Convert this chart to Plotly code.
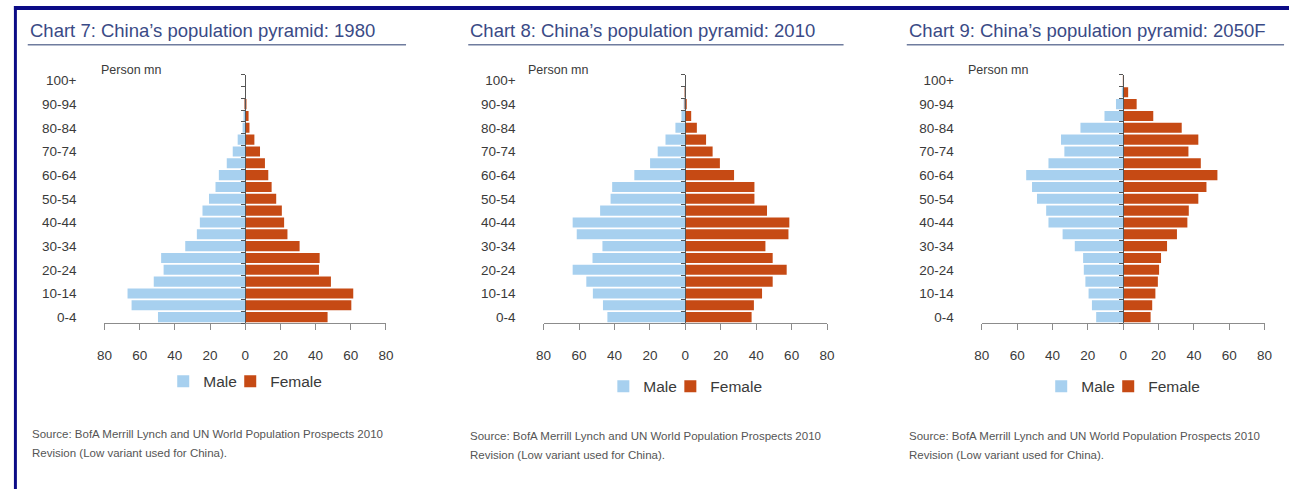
import plotly.graph_objects as go

W, H = 1297, 491

# Five-year age bands, youngest first
age_groups = ["0-4", "5-9", "10-14", "15-19", "20-24", "25-29", "30-34", "35-39",
              "40-44", "45-49", "50-54", "55-59", "60-64", "65-69", "70-74",
              "75-79", "80-84", "85-89", "90-94", "95-99", "100+"]
age_tick_labels = age_groups[::2]

# Population in millions by age band
male_1980 = [49.6, 64.6, 66.9, 52.0, 46.4, 47.8, 34.1, 27.5, 25.8, 24.3, 20.6,
             16.9, 15.0, 10.5, 7.1, 4.3, 1.5, 0.5, 0.1, 0.0, 0.0]
female_1980 = [46.8, 60.3, 61.4, 48.7, 41.9, 42.3, 30.9, 24.0, 22.1, 20.8, 17.6,
               15.0, 13.1, 11.2, 8.4, 5.2, 2.4, 1.9, 0.4, 0.0, 0.0]

male_2010 = [44.0, 46.5, 52.2, 55.9, 63.6, 52.4, 46.8, 61.3, 63.6, 48.1, 42.2,
             41.3, 28.8, 19.9, 15.6, 11.2, 5.6, 2.2, 0.5, 0.1, 0.0]
female_2010 = [37.4, 38.7, 43.3, 49.3, 57.2, 49.3, 45.2, 58.2, 58.7, 46.1, 39.0,
               39.0, 27.5, 19.5, 15.4, 11.7, 6.5, 3.3, 0.8, 0.1, 0.0]

male_2050 = [15.3, 17.7, 19.6, 21.4, 22.3, 22.7, 27.4, 34.3, 42.3, 43.6, 48.8,
             51.6, 54.9, 42.3, 33.3, 35.2, 24.2, 10.6, 4.1, 0.5, 0.0]
female_2050 = [15.5, 16.4, 18.2, 19.6, 20.3, 21.4, 24.8, 30.4, 36.3, 37.1, 42.5,
               47.1, 53.3, 43.9, 36.9, 42.5, 33.1, 17.0, 7.6, 2.8, 0.3]

chart_titles = ["Chart 7: China\u2019s population pyramid: 1980",
                "Chart 8: China\u2019s population pyramid: 2010",
                "Chart 9: China\u2019s population pyramid: 2050F"]
x_tick_values = [-80, -60, -40, -20, 0, 20, 40, 60, 80]
x_tick_labels = ["80", "60", "40", "20", "0", "20", "40", "60", "80"]
unit_label = "Person mn"
source_lines = ["Source: BofA Merrill Lynch and UN World Population Prospects 2010",
                "Revision (Low variant used for China)."]

panels = [(male_1980, female_1980), (male_2010, female_2010), (male_2050, female_2050)]

MALE_COLOR = "#A7D0EF"
FEMALE_COLOR = "#C64A14"
TITLE_COLOR = "#3A4A86"
TEXT_COLOR = "#3A3A3A"
AXIS_COLOR = "#8C8C8C"
NAVY = "#0B0B86"
SANS = "Liberation Sans, Arial, sans-serif"


def px_x(p):
    return p / W


def px_y(p):
    return 1 - p / H


# Pixel layout of each panel: plot x extent, title x, underline end
plot_x = [(97.7, 382.7), (542.3, 829.3), (986.0, 1272.3)]
title_x = [20, 466, 910]
rule_end = [403, 846, 1292]
unit_x = [92, 524, 970]
legend_y = [383, 388, 388]
source_y = [436, 438, 438]
plot_top, plot_bottom = 74, 324

fig = go.Figure()
layout = dict(
    width=W, height=H,
    margin=dict(l=0, r=0, t=0, b=0),
    paper_bgcolor="white", plot_bgcolor="white",
    barmode="relative", bargap=0.15,
    showlegend=True,
    shapes=[], annotations=[],
)

ydom = [px_y(plot_bottom), px_y(plot_top)]
n = len(age_groups)

for i, (male, female) in enumerate(panels):
    k = i + 1
    xs = "" if k == 1 else str(k)
    xid, yid = "x" + xs, "y" + xs
    mid_k = k + 3
    leg = "legend" if k == 1 else f"legend{k}"

    fig.add_trace(go.Bar(
        x=[-v for v in male], y=age_groups, orientation="h", name="Male",
        marker=dict(color=MALE_COLOR, line=dict(width=0)),
        xaxis=xid, yaxis=yid, legend=leg, legendwidth=22,
        customdata=male, hovertemplate="%{y}: %{customdata} mn<extra>Male</extra>",
    ))
    fig.add_trace(go.Bar(
        x=female, y=age_groups, orientation="h", name="Female",
        marker=dict(color=FEMALE_COLOR, line=dict(width=0)),
        xaxis=xid, yaxis=yid, legend=leg,
        hovertemplate="%{y}: %{x} mn<extra>Female</extra>",
    ))
    # Empty trace so the zero axis overlay gets drawn
    fig.add_trace(go.Scatter(
        x=[], y=[], mode="markers", xaxis=xid, yaxis=f"y{mid_k}",
        showlegend=False, hoverinfo="skip",
    ))

    x0, x1 = plot_x[i]
    xdom = [px_x(x0), px_x(x1)]

    layout["xaxis" + xs] = dict(
        domain=xdom, anchor=yid, range=[-80, 80],
        tickmode="array", tickvals=x_tick_values, ticktext=x_tick_labels,
        ticks="outside", ticklen=6, tickcolor=AXIS_COLOR, tickwidth=1,
        showline=True, linecolor=AXIS_COLOR, linewidth=1,
        showgrid=False, zeroline=False, fixedrange=True,
        ticklabelstandoff=14,
        tickfont=dict(family=SANS, size=13.5, color=TEXT_COLOR),
    )
    layout["yaxis" + xs] = dict(
        domain=ydom, anchor=xid, type="category",
        categoryorder="array", categoryarray=age_groups,
        range=[-0.5, n - 0.5],
        tickmode="array", tickvals=age_tick_labels, ticktext=age_tick_labels,
        ticks="", showline=False, showgrid=False, zeroline=False,
        ticklabelstandoff=27, fixedrange=True,
        tickfont=dict(family=SANS, size=13.5, color=TEXT_COLOR),
    )
    # Vertical axis through zero, with ticks on the age-band boundaries
    layout[f"yaxis{mid_k}"] = dict(
        domain=ydom, overlaying=yid, anchor="free",
        position=(xdom[0] + xdom[1]) / 2, side="left",
        range=[-0.5, n - 0.5],
        tickmode="array", tickvals=[j - 0.5 for j in range(n + 1)],
        ticks="outside", ticklen=4, tickcolor="#555555", tickwidth=1,
        showticklabels=False, showline=True, linecolor="#555555", linewidth=1,
        showgrid=False, zeroline=False, fixedrange=True,
    )
    layout[leg] = dict(
        orientation="h", x=(xdom[0] + xdom[1]) / 2, xanchor="center",
        y=px_y(legend_y[i]), yanchor="middle",
        font=dict(family=SANS, size=15.5, color=TEXT_COLOR),
        bgcolor="rgba(0,0,0,0)", itemclick=False, itemdoubleclick=False,
    )

    # Title and rule beneath it
    layout["annotations"].append(dict(
        text=chart_titles[i], xref="paper", yref="paper",
        x=px_x(title_x[i]), y=px_y(30), xanchor="left", yanchor="middle",
        showarrow=False, font=dict(family=SANS, size=18.5, color=TITLE_COLOR),
    ))
    layout["shapes"].append(dict(
        type="line", xref="paper", yref="paper",
        x0=px_x(title_x[i]), x1=px_x(rule_end[i]), y0=px_y(44), y1=px_y(44),
        line=dict(color="#6F7C9E", width=1.5),
    ))
    # Unit label
    layout["annotations"].append(dict(
        text=unit_label, xref="paper", yref="paper",
        x=px_x(unit_x[i]), y=px_y(69), xanchor="left", yanchor="middle",
        showarrow=False, font=dict(family=SANS, size=12.5, color=TEXT_COLOR),
    ))
    # Source note
    for j, line in enumerate(source_lines):
        layout["annotations"].append(dict(
            text=line, xref="paper", yref="paper",
            x=px_x(title_x[i] + (2 if i == 0 else 0)), y=px_y(source_y[i] + 19 * j),
            xanchor="left", yanchor="middle", showarrow=False,
            font=dict(family=SANS, size=11.5, color="#555555"),
        ))

# Page frame: rules along the top and the left edge
layout["shapes"].append(dict(
    type="rect", xref="paper", yref="paper", layer="above",
    x0=px_x(6), x1=1, y0=px_y(9), y1=px_y(5),
    fillcolor=NAVY, line=dict(width=0),
))
layout["shapes"].append(dict(
    type="rect", xref="paper", yref="paper", layer="above",
    x0=px_x(6), x1=px_x(9), y0=0, y1=px_y(5),
    fillcolor=NAVY, line=dict(width=0),
))

fig.update_layout(**layout)
fig.write_html("out.html")
